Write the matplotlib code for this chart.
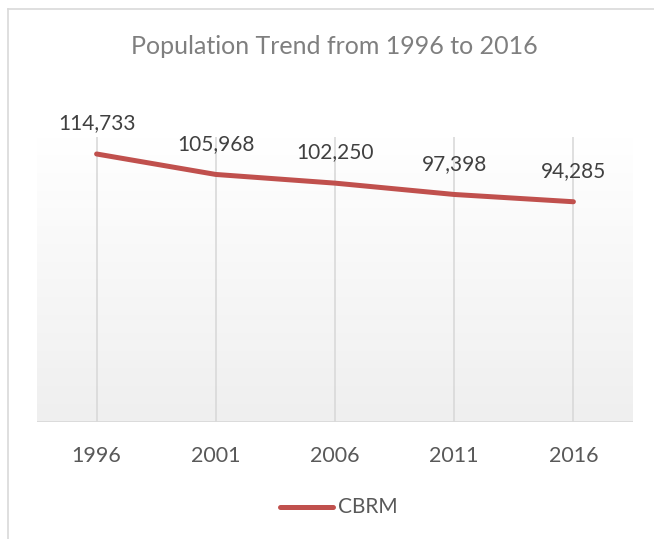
import numpy as np
import matplotlib
matplotlib.use("Agg")
import matplotlib.pyplot as plt
from matplotlib.lines import Line2D

plt.rcParams["font.family"] = ["Lato", "DejaVu Sans"]

years = ["1996", "2001", "2006", "2011", "2016"]
population = [114733, 105968, 102250, 97398, 94285]
series_name = "CBRM"

LINE = "#c0504d"
GRID = "#d9d9d9"
TXT = "#404040"
TICK = "#595959"

W, H = 654, 539
fig = plt.figure(figsize=(W / 100, H / 100), dpi=100)
fig.patch.set_facecolor("white")

# plot area in pixel terms
left, right, top, bottom = 37, 633, 137, 422
ax = fig.add_axes([left / W, 1 - bottom / H, (right - left) / W, (bottom - top) / H])

x = np.arange(len(years))
YMAX = 122000

# soft vertical gradient, white at the top, light grey at the bottom
grad = np.linspace(0, 1, 256).reshape(-1, 1)
cmap = matplotlib.colors.LinearSegmentedColormap.from_list("g", ["#ffffff", "#efefef"])
ax.imshow(grad, cmap=cmap, aspect="auto", extent=(-0.5, len(years) - 0.5, 0, YMAX),
          zorder=0, origin="upper")
ax.set_xlim(-0.5, len(years) - 0.5)
ax.set_ylim(0, YMAX)

for xi in x:
    ax.axvline(xi, color=GRID, lw=1.2, zorder=1)
ax.axhline(0, color=GRID, lw=2, zorder=2)

ax.plot(x, population, color=LINE, lw=3.6, solid_capstyle="round", zorder=3)

for xi, v in zip(x, population):
    ax.annotate(f"{v:,}", (xi, v), xytext=(0, 22), textcoords="offset points",
                ha="center", va="center", fontsize=15, color=TXT)

for s in ax.spines.values():
    s.set_visible(False)
ax.set_yticks([])
ax.set_xticks(x)
ax.set_xticklabels(years, fontsize=15.5, color=TICK)
ax.tick_params(axis="x", length=0, pad=17)

fig.text(334 / W, 1 - 47 / H, "Population Trend from 1996 to 2016",
         ha="center", va="center", fontsize=18, color="#7f7f7f")

# legend
leg_line = Line2D([280 / W, 333 / W], [1 - 507 / H, 1 - 507 / H], color=LINE, lw=3.6,
                  solid_capstyle="round", transform=fig.transFigure)
fig.add_artist(leg_line)
fig.text(338 / W, 1 - 507 / H, series_name, ha="left", va="center",
         fontsize=15, color=TICK)

# chart border (left and top edges visible)
fig.add_artist(Line2D([7.5 / W, 7.5 / W], [0, 1 - 9 / H], color=GRID, lw=1.2,
                      transform=fig.transFigure))
fig.add_artist(Line2D([7.5 / W, 1], [1 - 9 / H, 1 - 9 / H], color=GRID, lw=1.2,
                      transform=fig.transFigure))

fig.savefig("out.png", dpi=100, facecolor="white")
